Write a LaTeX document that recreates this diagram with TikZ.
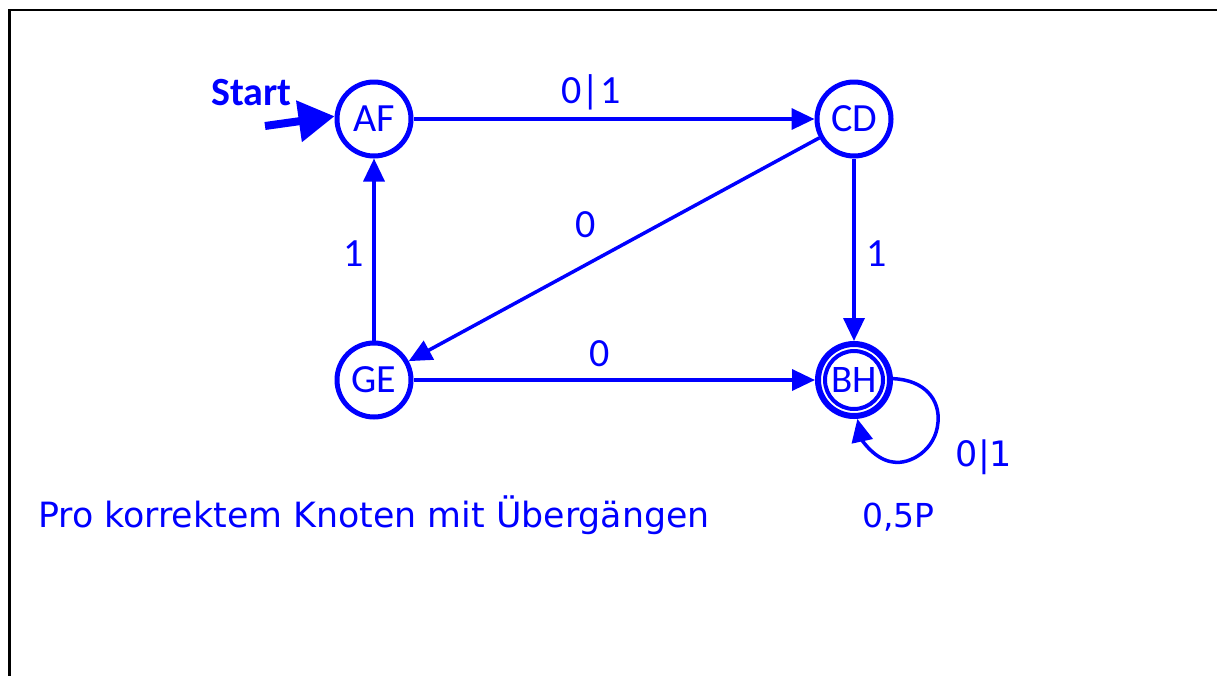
\documentclass[tikz,border=0pt]{standalone}
\usepackage{fontspec}
\setmainfont{Carlito}
\newfontfamily\comicfont{DejaVu Sans}
\usetikzlibrary{arrows.meta}
\definecolor{myblue}{RGB}{0,0,255}
\begin{document}
\begin{tikzpicture}[x=1pt,y=-1pt,
  stnode/.style={circle, draw=myblue, line width=5pt, minimum size=74pt, inner sep=0pt,
    text=myblue, font=\fontsize{40}{44}\selectfont},
  edge/.style={draw=myblue, line width=3.5pt, -{Triangle[length=23pt,width=21pt]}},
  lbl/.style={text=myblue, inner sep=0pt, anchor=base, font=\fontsize{40}{44}\selectfont},
  clbl/.style={text=myblue, inner sep=0pt, anchor=base west, font=\comicfont\fontsize{34.8}{40}\selectfont}]
\useasboundingbox (0,0) rectangle (1217,675);
\fill[white] (0,0) rectangle (1217,675);
\draw[line width=2.5pt] (9.7,676) -- (9.7,10) -- (1218,10);

\node[stnode] (AF) at (374,119) {AF};
\node[stnode] (CD) at (854,119) {CD};
\node[stnode] (GE) at (374,380) {GE};
\node[circle, draw=myblue, line width=6pt, minimum size=72pt, inner sep=0pt] (BH) at (854,380) {};
\node[circle, draw=myblue, line width=4pt, minimum size=58pt, inner sep=0pt,
  text=myblue, font=\fontsize{39}{44}\selectfont] (BHi) at (854,380) {BH};

\node[text=myblue, inner sep=0pt, anchor=base west, font=\bfseries\fontsize{40}{44}\selectfont] (start) at (211,105) {Start};
\coordinate (s0) at (265,126);
\draw[draw=myblue, line width=8pt, -{Triangle[length=36pt,width=40pt]}] (s0) -- (AF.176);

\draw[edge] (AF) -- (CD);
\draw[edge] (CD) -- (GE);
\draw[edge] (CD) -- (BH);
\draw[edge] (GE) -- (AF);
\draw[edge] (GE) -- (BH);
\draw[edge] (BH.2) .. controls (925,380) and (940,400) .. (938,422)
   .. controls (936,450) and (910,465) .. (893,462)
   .. controls (875,460) and (862,440) .. (BH.-85);

\node[lbl] (l1) at (591,103) {0|1};
\node[lbl] (l2) at (586,237) {0};
\node[lbl] (l3) at (354,266) {1};
\node[lbl] (l4) at (877,266) {1};
\node[lbl] (l5) at (600,366) {0};
\node[text=myblue, inner sep=0pt, anchor=base, font=\comicfont\fontsize{35}{40}\selectfont] (l6) at (984,466) {0|1};
\node[text=myblue, inner sep=0pt, anchor=base west, font=\comicfont\fontsize{33}{40}\selectfont] (pts) at (862,527) {0,5P};
\node[clbl] (txt) at (38,527) {Pro korrektem Knoten mit Übergängen};
\end{tikzpicture}
\end{document}
